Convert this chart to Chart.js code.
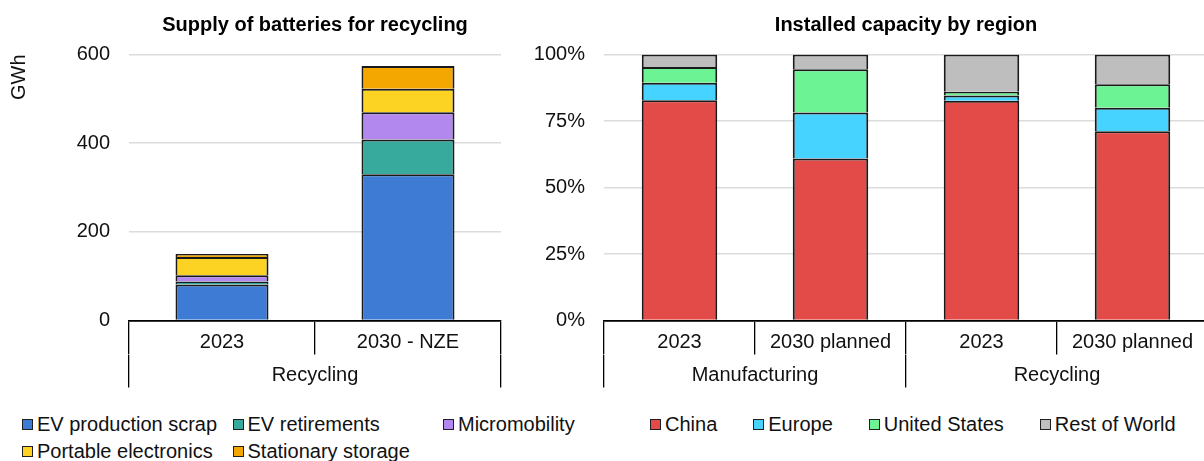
<!DOCTYPE html>
<html>
<head>
<meta charset="utf-8">
<title>Battery recycling supply and capacity</title>
<script src="https://cdn.jsdelivr.net/npm/chart.js@4.4.1/dist/chart.umd.min.js"></script>
<style>
  html, body { margin: 0; padding: 0; background: #fff; }
  body { width: 1204px; height: 461px; position: relative; overflow: hidden;
         font-family: "Liberation Sans", Arial, Helvetica, sans-serif; color: #111; }
  canvas { position: absolute; top: 0; }
  #supply { left: 0; }
  #capacity { left: 520px; }
  .legend { position: absolute; font-size: 20px; }
  .legend .item { position: absolute; display: flex; align-items: center; height: 27px; white-space: nowrap; }
  .legend .box { width: 9px; height: 9px; border: 1px solid #1f1f1f; margin-right: 4px; flex: none; }
</style>
</head>
<body>
<canvas id="supply" width="520" height="400"></canvas>
<canvas id="capacity" width="688" height="400"></canvas>
<div class="legend" id="supplyLegend"></div>
<div class="legend" id="capacityLegend"></div>

<script>
// ---- Supply of batteries for recycling (GWh) ----
const supplyCategories = ['2023', '2030 - NZE'];
const supplyGroups = ['Recycling'];
const evProductionScrap = [81, 330];
const evRetirements = [7, 78];
const micromobility = [14, 62];
const portableElectronics = [41, 53];
const stationaryStorage = [7, 51];
const supplyTicks = [0, 200, 400, 600];

// ---- Installed capacity by region (share, %) ----
const capacityCategories = ['2023', '2030 planned', '2023', '2030 planned'];
const capacityGroups = ['Manufacturing', 'Recycling'];
const china = [82.8, 60.9, 82.6, 71.1];
const europe = [6.6, 17.3, 2.0, 8.9];
const unitedStates = [5.9, 16.3, 1.4, 8.8];
const restOfWorld = [4.7, 5.5, 14.0, 11.2];
const capacityTicks = [0, 25, 50, 75, 100];

const supplySeries = [
  { label: 'EV production scrap', data: evProductionScrap, color: '#3e7bd4' },
  { label: 'EV retirements', data: evRetirements, color: '#38aa9d' },
  { label: 'Micromobility', data: micromobility, color: '#b388ee' },
  { label: 'Portable electronics', data: portableElectronics, color: '#fdd323' },
  { label: 'Stationary storage', data: stationaryStorage, color: '#f4a700' }
];
const capacitySeries = [
  { label: 'China', data: china, color: '#e24b47' },
  { label: 'Europe', data: europe, color: '#47d3ff' },
  { label: 'United States', data: unitedStates, color: '#6cf494' },
  { label: 'Rest of World', data: restOfWorld, color: '#bebebe' }
];

Chart.defaults.font.family = "'Liberation Sans', Arial, Helvetica, sans-serif";
Chart.defaults.font.size = 20;
Chart.defaults.color = '#111';

const EDGE = '#1a1a1a';
const GRID = '#dcdcdc';

function toDatasets(series) {
  return series.map(s => ({
    label: s.label,
    data: s.data,
    backgroundColor: s.color,
    borderColor: EDGE,
    borderWidth: 2,
    barPercentage: 0.5,
    categoryPercentage: 1
  }));
}

// Two-level category axis: inner labels with separators, then the group row below.
function categoryAxes(groups) {
  return {
    x: {
      stacked: true,
      offset: true,
      weight: 0,
      grid: { display: true, drawOnChartArea: false, drawTicks: true, tickLength: 34,
              offset: true, color: '#000', lineWidth: 1.3 },
      border: { display: true, color: '#000', width: 1.7 },
      ticks: { padding: -24, maxRotation: 0, autoSkip: false, color: '#111' },
      afterFit: s => { s.height = 34; }
    },
    group: {
      type: 'category',
      position: 'bottom',
      labels: groups,
      offset: true,
      weight: 1,
      grid: { display: true, drawOnChartArea: false, drawTicks: true, tickLength: 33,
              offset: true, color: '#000', lineWidth: 1.3 },
      border: { display: false },
      ticks: { padding: -24, maxRotation: 0, autoSkip: false, color: '#111' },
      afterFit: s => { s.height = 33; }
    }
  };
}

function valueAxis(min, max, step, width, fmt, title) {
  return {
    stacked: true,
    min: min, max: max,
    grid: { color: GRID, lineWidth: 1.5, drawTicks: false },
    border: { display: false },
    ticks: { stepSize: step, padding: 19, color: '#111', callback: fmt },
    title: title,
    afterFit: s => { s.width = width; }
  };
}

function titleOpts(text) {
  return { display: true, text: text, fullSize: false, color: '#000',
           font: { size: 20, weight: 'bold' }, padding: { top: 13, bottom: 17.5 } };
}

new Chart(document.getElementById('supply'), {
  type: 'bar',
  data: { labels: supplyCategories, datasets: toDatasets(supplySeries) },
  options: {
    responsive: false,
    animation: false,
    layout: { padding: { left: 0, right: 19, top: 0, bottom: 12.5 } },
    plugins: { legend: { display: false }, tooltip: { enabled: false },
               title: titleOpts('Supply of batteries for recycling') },
    scales: Object.assign(categoryAxes(supplyGroups), {
      y: valueAxis(supplyTicks[0], supplyTicks[supplyTicks.length - 1], supplyTicks[1] - supplyTicks[0], 129,
                   v => String(v),
                   { display: true, text: 'GWh', align: 'end', color: '#111', font: { size: 20 },
                     padding: { top: 7.5, bottom: 0 } })
    })
  }
});

new Chart(document.getElementById('capacity'), {
  type: 'bar',
  data: { labels: capacityCategories, datasets: toDatasets(capacitySeries) },
  options: {
    responsive: false,
    animation: false,
    layout: { padding: { left: 0, right: 0, top: 0, bottom: 12.5 } },
    plugins: { legend: { display: false }, tooltip: { enabled: false },
               title: titleOpts('Installed capacity by region') },
    scales: Object.assign(categoryAxes(capacityGroups), {
      y: valueAxis(capacityTicks[0], capacityTicks[capacityTicks.length - 1], capacityTicks[1] - capacityTicks[0], 84,
                   v => v + '%', { display: false })
    })
  }
});

// Legends built from the same series definitions
function addItem(container, s, left, top) {
  const item = document.createElement('div');
  item.className = 'item';
  item.style.left = left + 'px';
  item.style.top = top + 'px';
  const box = document.createElement('span');
  box.className = 'box';
  box.style.background = s.color;
  const txt = document.createElement('span');
  txt.textContent = s.label;
  item.appendChild(box);
  item.appendChild(txt);
  container.appendChild(item);
  return item;
}

const supplyLegend = document.getElementById('supplyLegend');
supplySeries.forEach((s, i) => {
  const col = i % 3, row = Math.floor(i / 3);
  addItem(supplyLegend, s, 22 + col * 210.5, 411 + row * 27);
});

const capacityLegend = document.getElementById('capacityLegend');
let x = 650;
capacitySeries.forEach(s => {
  const item = addItem(capacityLegend, s, x, 411);
  x += item.getBoundingClientRect().width + 36;
});
</script>
</body>
</html>
